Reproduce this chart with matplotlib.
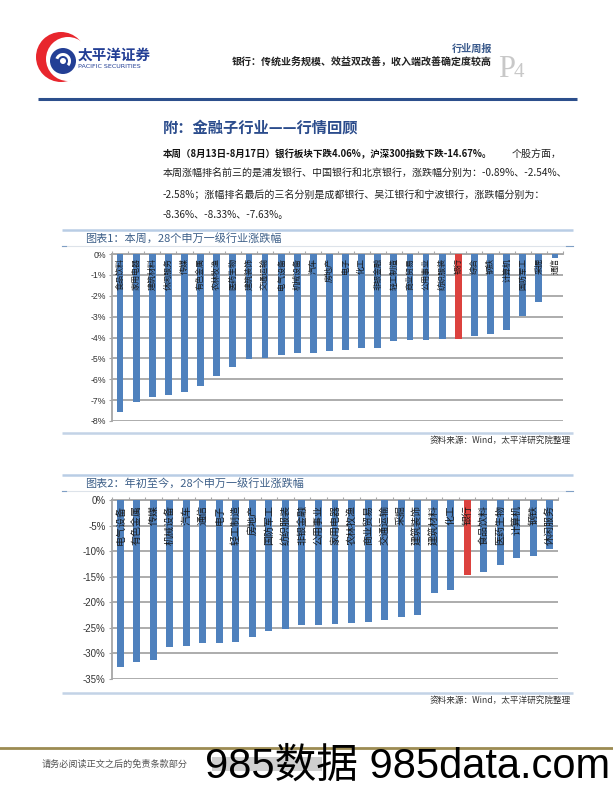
import matplotlib
matplotlib.use("Agg")
import matplotlib.pyplot as plt
from matplotlib.patches import Circle, Rectangle, Wedge
import numpy as np

plt.rcParams['font.family'] = ['Noto Sans CJK SC', 'DejaVu Sans']

# Chart 1: this week, SW level-1 industries (%)
ind_week = ['食品饮料', '家用电器', '建筑材料', '休闲服务', '传媒', '有色金属', '农林牧渔',
            '医药生物', '建筑装饰', '交通运输', '电气设备', '机械设备', '汽车', '房地产',
            '电子', '化工', '非银金融', '轻工制造', '商业贸易', '公用事业', '纺织服装',
            '银行', '综合', '钢铁', '计算机', '国防军工', '采掘', '通信']
chg_week = [-7.58, -7.10, -6.86, -6.76, -6.60, -6.31, -5.85, -5.40, -5.04, -4.96,
            -4.85, -4.76, -4.72, -4.66, -4.61, -4.51, -4.50, -4.18, -4.14, -4.10,
            -4.08, -4.06, -3.92, -3.85, -3.64, -2.98, -2.29, -0.20]

# Chart 2: year to date (%)
ind_ytd = ['电气设备', '有色金属', '传媒', '机械设备', '汽车', '通信', '电子', '轻工制造',
           '房地产', '国防军工', '纺织服装', '非银金融', '公用事业', '家用电器', '农林牧渔',
           '商业贸易', '交通运输', '采掘', '建筑装饰', '建筑材料', '化工', '银行',
           '食品饮料', '医药生物', '计算机', '钢铁', '休闲服务']
chg_ytd = [-32.6, -31.6, -31.3, -28.8, -28.6, -28.0, -28.0, -27.8, -26.8, -25.6,
           -25.2, -24.5, -24.5, -24.2, -24.0, -23.8, -23.4, -22.9, -22.5, -18.2,
           -17.5, -14.7, -14.0, -12.7, -11.3, -11.0, -9.6]

ticks_week = list(range(0, -9, -1))
ticks_ytd = list(range(0, -36, -5))

BLUE = '#4f81bd'
RED = '#dc423e'
GRID = '#a6a6a6'

W, H = 613, 793
fig = plt.figure(figsize=(W / 100, H / 100), dpi=100)

# page layer in pixel coordinates
pg = fig.add_axes([0, 0, 1, 1])
pg.set_xlim(0, W)
pg.set_ylim(H, 0)
pg.axis('off')

# logo
pg.add_patch(Circle((61, 57), 25, color='#e8262d', lw=0))
pg.add_patch(Circle((68, 59), 22, color='white', lw=0))
pg.add_patch(Circle((63, 61), 13, color='#233f95', lw=0))
pg.add_patch(Wedge((63, 61), 8, 200, 40, width=3, color='white', lw=0))
pg.add_patch(Circle((63, 61), 3, color='white', lw=0))
pg.text(78, 55, '太平洋证券', fontsize=10.5, fontweight='bold', color='#233f95', va='center')
pg.text(78, 67, 'PACIFIC SECURITIES', fontsize=4.6, color='#233f95', va='center',
        family='DejaVu Sans')

pg.text(492, 49, '行业周报', fontsize=7.3, fontweight='bold', color='#3a5a8c', ha='right', va='center')
pg.text(492, 63, '银行：传统业务规模、效益双改善，收入端改善确定度较高', fontsize=7.2,
        fontweight='bold', color='#222222', ha='right', va='center')
pg.text(498, 77, 'P', fontsize=22, color='#c8c8c8', family='Liberation Serif', va='baseline')
pg.text(514, 77, '4', fontsize=15, color='#c8c8c8', family='Liberation Serif', va='baseline')
pg.plot([38, 577], [99, 99], color='#2c4f8c', lw=2.2, solid_capstyle='butt')

# section heading and paragraph
pg.text(163, 128, '附：金融子行业——行情回顾', fontsize=11, fontweight='bold', color='#2b4c8c', va='center')
pg.text(163, 154, '本周（8月13日-8月17日）银行板块下跌4.06%，沪深300指数下跌-14.67%。',
        fontsize=6.8, fontweight='bold', color='#111111', va='center')
pg.text(562, 154, '个股方面，', fontsize=7.2, color='#222222', va='center', ha='right')
pg.text(163, 174, '本周涨幅排名前三的是浦发银行、中国银行和北京银行，涨跌幅分别为：-0.89%、-2.54%、',
        fontsize=7.2, color='#222222', va='center')
pg.text(163, 195, '-2.58%；涨幅排名最后的三名分别是成都银行、吴江银行和宁波银行，涨跌幅分别为：',
        fontsize=7.2, color='#222222', va='center')
pg.text(163, 215, '-8.36%、-8.33%、-7.63%。', fontsize=7.2, color='#222222', va='center')


def frame(top, title, bottom):
    pg.plot([62, 573], [top, top], color='#b9cde5', lw=1.8, solid_capstyle='butt')
    pg.text(85, top + 8, title, fontsize=8, color='#3e6089', va='center')
    pg.plot([62, 568], [top + 16, top + 16], color='#dde3ea', lw=0.8)
    pg.plot([62, 66], [top + 16, top + 16], color='#7f9fc5', lw=0.8)
    pg.plot([566, 573], [top + 16, top + 16], color='#7f9fc5', lw=0.8)
    pg.plot([62, 573], [bottom, bottom], color='#c3d3e6', lw=1.8, solid_capstyle='butt')
    pg.text(571, bottom + 7, '资料来源：Wind，太平洋研究院整理', fontsize=6.2, color='#333333',
            style='italic', ha='right', va='center')


frame(230, '图表1：本周，28个申万一级行业涨跌幅', 433)
frame(475, '图表2：年初至今，28个申万一级行业涨跌幅', 693)


def bar_chart(rect, names, vals, yt, label_y, lab_fs, tick_fs):
    x0, y0, x1, y1 = rect
    ax = fig.add_axes([x0 / W, 1 - y1 / H, (x1 - x0) / W, (y1 - y0) / H])
    ax.set_facecolor('none')
    n = len(names)
    xs = np.arange(n)
    cols = [RED if nm == '银行' else BLUE for nm in names]
    ax.bar(xs, vals, width=0.42, color=cols, zorder=3)
    for i, nm in enumerate(names):
        ax.text(i, label_y, nm, rotation=90, ha='center', va='top', fontsize=lab_fs,
                color='#1a1a1a', zorder=4)
    ax.set_xlim(-0.5, n - 0.5)
    ax.set_ylim(yt[-1], 0)
    ax.set_yticks(yt)
    ax.set_yticklabels([f'{t}%' for t in yt], fontsize=tick_fs, color='#333333',
                       family='Liberation Sans')
    ax.yaxis.grid(True, color=GRID, lw=1.3, zorder=0)
    ax.xaxis.tick_top()
    ax.set_xticks(np.arange(n + 1) - 0.5)
    ax.set_xticklabels([])
    ax.tick_params(axis='x', length=2.5, color=GRID, width=0.8)
    ax.tick_params(axis='y', length=2.5, color=GRID, width=0.8, pad=2)
    for s in ['right', 'bottom']:
        ax.spines[s].set_visible(False)
    ax.spines['left'].set_color(GRID)
    ax.spines['top'].set_color(GRID)
    ax.spines['left'].set_linewidth(1.3)
    ax.spines['top'].set_linewidth(1.3)
    return ax


bar_chart((112, 254, 563, 421), ind_week, chg_week, ticks_week, -0.2, 5.8, 6.3)
bar_chart((112, 500, 558, 679), ind_ytd, chg_ytd, ticks_ytd, -1.0, 7.2, 7)

# footer
pg.plot([0, W], [748, 748], color='#9c8b52', lw=2)
pg.text(42, 764, '请务必阅读正文之后的免责条款部分', fontsize=6.6, color='#555555', va='center')
pg.add_patch(Rectangle((212, 757), 110, 14, color='#cfcfcf', lw=0))
pg.text(205, 778, '985数据 985data.com', fontsize=30, color='black', va='baseline',
        family=['Liberation Sans', 'Noto Sans CJK SC'])

fig.savefig('out.png', dpi=100)
